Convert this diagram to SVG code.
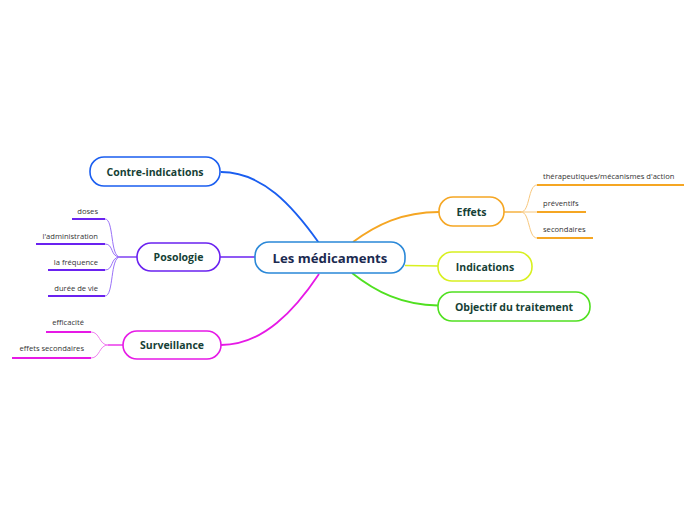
<svg xmlns="http://www.w3.org/2000/svg" width="696" height="520" viewBox="0 0 696 520">
<style>
.node{fill:#fff;stroke-width:1.6}
.lbl{font-family:"Open Sans","Noto Sans",sans-serif;font-weight:bold;font-size:10.5px;fill:#163f36;text-anchor:middle}
.sub{font-family:"Open Sans","Noto Sans",sans-serif;font-size:7.6px;fill:#333}
.c{fill:none}
.ul{fill:none;stroke-width:2}
</style>
<rect width="696" height="520" fill="#fff"/>
<g id="connectors">
<path class="c" d="M221,172 C262,172 292,205 319,243" stroke="#1a5ef0" stroke-width="1.8"/>
<path class="c" d="M220,257 L255,257" stroke="#6a22f0" stroke-width="1.5"/>
<path class="c" d="M221,345 C263,345 295,310 319,274" stroke="#e619e6" stroke-width="1.8"/>
<path class="c" d="M353,242 C376,225 402,212 439,212" stroke="#f5a623" stroke-width="1.8"/>
<path class="c" d="M405,265.5 L438,266" stroke="#d8f020" stroke-width="1.5"/>
<path class="c" d="M352,273 C376,292 402,305 438,305.5" stroke="#50e020" stroke-width="1.8"/>
<path class="c" d="M137,257 L120,257" stroke="#6a22f0" stroke-width="1.3"/>
<g stroke="#9a72f8" stroke-width="1" fill="none">
<path d="M120,257 C110,257 114,219 105,219"/>
<path d="M120,257 C110,257 114,244 105,244"/>
<path d="M120,257 C110,257 114,270 105,270"/>
<path d="M120,257 C110,257 114,296 105,296"/>
</g>
<g stroke="#6a22f0" class="ul">
<line x1="72" y1="219" x2="105" y2="219"/>
<line x1="36" y1="244" x2="105" y2="244"/>
<line x1="48" y1="270" x2="105" y2="270"/>
<line x1="48" y1="296" x2="105" y2="296"/>
</g>
<path class="c" d="M123,345 L108,345" stroke="#e619e6" stroke-width="1.3"/>
<g stroke="#f080f0" stroke-width="1" fill="none">
<path d="M108,345 C99,345 100,332 91,332"/>
<path d="M108,345 C99,345 100,358 91,358"/>
</g>
<g stroke="#e619e6" class="ul">
<line x1="46" y1="332" x2="91" y2="332"/>
<line x1="12" y1="358" x2="91" y2="358"/>
</g>
<path class="c" d="M504,212 L521,212" stroke="#f5a623" stroke-width="1.3"/>
<g stroke="#f8c77c" stroke-width="1" fill="none">
<path d="M521,212 C530,212 528,185 537,185"/>
<path d="M521,212 L537,212"/>
<path d="M521,212 C530,212 528,238 537,238"/>
</g>
<g stroke="#f5a623" class="ul">
<line x1="537" y1="185" x2="684" y2="185"/>
<line x1="537" y1="212" x2="586" y2="212"/>
<line x1="537" y1="238" x2="593" y2="238"/>
</g>
</g>
<g id="central">
<rect class="node" x="255" y="242" width="150" height="31" rx="14" stroke="#2a88d8"/>
<text x="330" y="262.5" text-anchor="middle" font-family="'Open Sans','Noto Sans',sans-serif" font-weight="bold" font-size="13.2" fill="#1b2a50">Les médicaments</text>
</g>
<g id="contre-indications">
<rect class="node" x="90" y="157" width="130" height="29" rx="14" stroke="#1a5ef0"/>
<text class="lbl" x="155" y="175.5">Contre-indications</text>
</g>
<g id="posologie">
<rect class="node" x="137" y="243" width="83" height="28" rx="14" stroke="#6a22f0"/>
<text class="lbl" x="178.5" y="261">Posologie</text>
</g>
<g id="surveillance">
<rect class="node" x="123" y="331" width="98" height="28" rx="14" stroke="#e619e6"/>
<text class="lbl" x="172" y="349">Surveillance</text>
</g>
<g id="effets">
<rect class="node" x="439" y="197" width="65" height="29" rx="14" stroke="#f5a623"/>
<text class="lbl" x="471.5" y="215.5">Effets</text>
</g>
<g id="indications">
<rect class="node" x="438" y="252" width="94" height="29" rx="14" stroke="#d8f020"/>
<text class="lbl" x="485" y="270.5">Indications</text>
</g>
<g id="objectif">
<rect class="node" x="438" y="292" width="152" height="29" rx="14" stroke="#50e020"/>
<text class="lbl" x="514" y="310.5">Objectif du traitement</text>
</g>
<g id="doses"><text class="sub" x="98" y="214" text-anchor="end">doses</text></g>
<g id="administration"><text class="sub" x="98" y="239" text-anchor="end">l'administration</text></g>
<g id="frequence"><text class="sub" x="98" y="264.5" text-anchor="end">la fréquence</text></g>
<g id="duree"><text class="sub" x="98" y="290.5" text-anchor="end">durée de vie</text></g>
<g id="efficacite"><text class="sub" x="84" y="325" text-anchor="end">efficacité</text></g>
<g id="effets-secondaires"><text class="sub" x="84" y="351" text-anchor="end">effets secondaires</text></g>
<g id="therapeutiques"><text class="sub" x="543" y="179">thérapeutiques/mécanismes d'action</text></g>
<g id="preventifs"><text class="sub" x="543" y="205.5">préventifs</text></g>
<g id="secondaires"><text class="sub" x="543" y="231.5">secondaires</text></g>
</svg>
